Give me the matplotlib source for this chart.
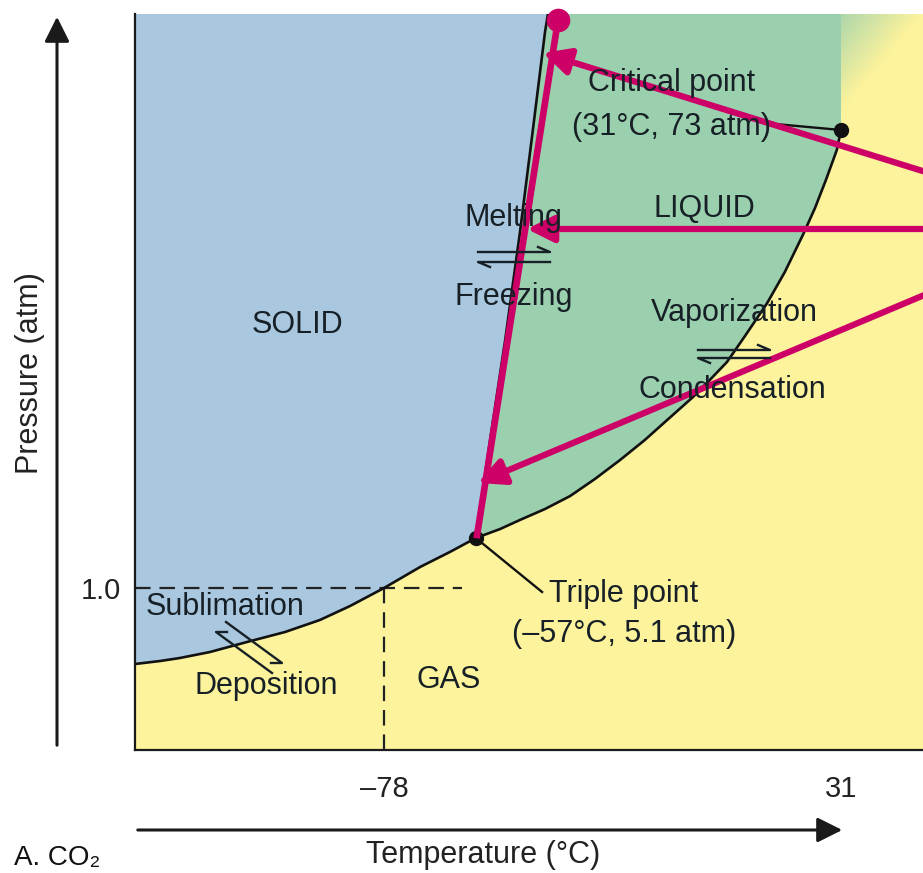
import matplotlib.pyplot as plt
import numpy as np
from matplotlib.transforms import Affine2D
from matplotlib.patches import FancyArrowPatch
from matplotlib.colors import to_rgb

plt.rcParams['font.family'] = ['Liberation Sans', 'DejaVu Sans']

# phase boundaries: temperature (deg C) vs schematic pressure height
subl_T = [-137.4, -131.4, -126.7, -119.5, -110.7, -101.6, -93.3, -86.1,
          -78.0, -69.4, -62.3, -56.1]
subl_P = [86, 89, 92, 98, 108, 118, 130, 144, 162, 183, 198, 212]
vap_T = [-56.1, -50.3, -45.6, -39.6, -33.6, -27.7, -21.7, -15.8, -11.0,
         -4.3, -0.3, 3.8, 8.1, 13.4, 17.6, 21.9, 24.8, 27.4, 30.0, 31.0]
vap_P = [212, 221, 230, 241, 254, 271, 290, 310, 328, 353, 370, 388, 414,
         447, 478, 515, 542, 570, 600, 620]
melt_T = [-56.1, -52.7, -49.1, -45.6, -42.5, -39.6, -38.9]
melt_P = [212, 310, 410, 517, 620, 718, 736]

triple = (-56.1, 212)
critical = (31.0, 620)
one_atm = 162
T_ticks = [-78, 31]
T_tick_labels = ['\u201378', '31']
P_ticks = [one_atm]
P_tick_labels = ['1.0']

# magenta overlay: (start, tip)
pink_arrows = [((52, 577), (-40.1, 697)),
               ((52, 521), (-43.9, 521)),
               ((52, 457), (-55.6, 267))]
pink_line = ((-55.8, 215), (-36.5, 730))

W, H = 923, 873
T_min, T_max = -137.4, 50.56
P_top = 736

blue = '#a9c8df'
green = '#9bd0ae'
yellow = '#fdf39c'
ink = '#172026'
pink = '#cc0066'

fig = plt.figure(figsize=(W / 100, H / 100), dpi=100)
px = Affine2D().scale(1 / W, -1 / H).translate(0, 1) + fig.transFigure

ax = fig.add_axes([135 / W, 123 / H, 788 / W, 736 / H])
ax.set_facecolor(yellow)
ax.set_xlim(T_min, T_max)
ax.set_ylim(0, P_top)

# regions
ax.fill(subl_T + melt_T[1:] + [T_min], subl_P + melt_P[1:] + [P_top],
        color=blue, lw=0, zorder=1)
ax.fill(melt_T + [critical[0]] + vap_T[::-1], melt_P + [P_top] + vap_P[::-1],
        color=green, lw=0, zorder=1)

# supercritical fade
gx = np.linspace(0, 82, 60)
gy = np.linspace(0, 736, 200)
GX, GY = np.meshgrid(gx, gy)
g = np.clip(0.8 - (GX / 100 + GY / 120), 0, 1)[..., None]
img = np.array(to_rgb(yellow)) * (1 - g) + np.array(to_rgb(green)) * g
ax.imshow(img, extent=(critical[0], T_max, 0, P_top), origin='upper',
          aspect='auto', zorder=1)

# boundaries
for T, P in [(subl_T, subl_P), (vap_T, vap_P), (melt_T, melt_P)]:
    ax.plot(T, P, color='#111111', lw=1.9, zorder=3, solid_joinstyle='round')
ax.plot(*triple, 'o', color='#111111', ms=10, zorder=4)
ax.plot(*critical, 'o', color='#111111', ms=10, zorder=4)

# 1 atm dashes
ax.plot([T_min, -59.4], [one_atm, one_atm], color='#222222', lw=1.6,
        dashes=(7, 4), zorder=2)
ax.plot([-78, -78], [0, one_atm], color='#222222', lw=1.6,
        dashes=(7, 4), zorder=2)

# leaders
ax.plot([triple[0], -40.3], [triple[1], 158], color='#111111', lw=1.7, zorder=3)
ax.plot([15.3, critical[0]], [626, critical[1]], color='#111111', lw=1.7, zorder=3)

for s in ['top', 'right']:
    ax.spines[s].set_visible(False)
for s in ['left', 'bottom']:
    ax.spines[s].set_color('#1a1a1a')
    ax.spines[s].set_linewidth(1.6)
    ax.spines[s].set_zorder(5)
ax.set_xticks(T_ticks, T_tick_labels)
ax.set_yticks(P_ticks, P_tick_labels)
ax.tick_params(length=0, labelsize=21, colors='#222222')
ax.tick_params(axis='x', pad=18)
ax.tick_params(axis='y', pad=10)

# labels inside the plot (pixel layout)
labels = [
    ('Critical point', 672, 83), ('(31\u00b0C, 73 atm)', 671, 127),
    ('LIQUID', 704, 209), ('Melting', 513, 218), ('Freezing', 514, 297),
    ('SOLID', 297, 325), ('Vaporization', 734, 313), ('Condensation', 732, 390),
    ('Triple point', 624, 594), ('(\u201357\u00b0C, 5.1 atm)', 624, 634),
    ('Sublimation', 225, 607), ('Deposition', 266, 686), ('GAS', 449, 680),
]
for s, x, y in labels:
    fig.text(x, y, s, transform=px, ha='center', va='center', fontsize=22,
             color=ink)


def harpoon(x0, y0, x1, y1, dx, dy):
    fig.add_artist(plt.Line2D([x0, x1, x1 + dx], [y0, y1, y1 + dy],
                              transform=px, color=ink, lw=1.7))


harpoon(478, 252, 550, 252, -12, -5)
harpoon(550, 262, 478, 262, 12, 5)
harpoon(698, 350, 770, 350, -12, -5)
harpoon(770, 358, 698, 358, 12, 5)
harpoon(226, 622, 282, 663, -11, 0)
harpoon(272, 673, 216, 632, 11, 0)

# axis arrows
fig.add_artist(FancyArrowPatch((57, 748), (57, 14), transform=px,
                               arrowstyle='-|>', mutation_scale=38,
                               color='#1a1a1a', lw=2.2))
fig.add_artist(FancyArrowPatch((135, 830), (845, 830), transform=px,
                               arrowstyle='-|>', mutation_scale=38,
                               color='#1a1a1a', lw=2.2))
fig.text(30, 373, 'Pressure (atm)', transform=px, rotation=90, ha='center',
         va='center', fontsize=22, color='#222222')
fig.text(483, 855, 'Temperature (\u00b0C)', transform=px, ha='center',
         va='center', fontsize=22, color='#222222')
fig.text(14, 871, 'A. CO\u2082', transform=px, ha='left', va='bottom',
         fontsize=20, color='#111111')

# magenta overlay
for (s, t) in pink_arrows:
    ax.annotate('', xy=t, xytext=s, annotation_clip=False,
                arrowprops=dict(arrowstyle='-|>', color=pink, lw=4.5,
                                mutation_scale=40, shrinkA=0, shrinkB=0),
                zorder=6)
ax.plot([pink_line[0][0], pink_line[1][0]], [pink_line[0][1], pink_line[1][1]],
        color=pink, lw=4.8, zorder=6, clip_on=False)
ax.plot(*pink_line[1], 'o', color=pink, ms=16, zorder=7, clip_on=False)

fig.savefig('out.png', dpi=100)
